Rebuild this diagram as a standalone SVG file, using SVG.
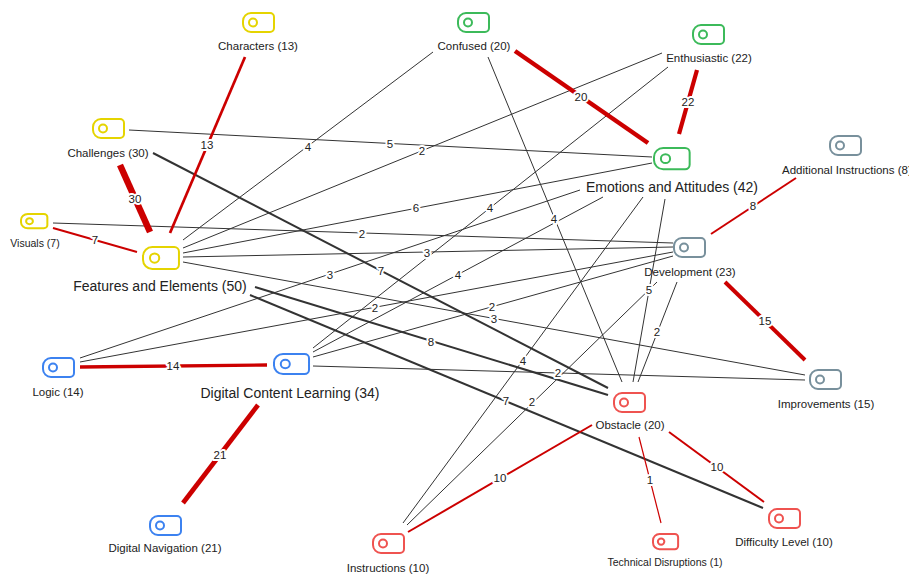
<svg xmlns="http://www.w3.org/2000/svg" xmlns:xlink="http://www.w3.org/1999/xlink" width="909" height="575" viewBox="0 0 909 575">
<style>
.e{stroke:#333;stroke-width:1;fill:none}
.eb{stroke:#333;stroke-width:2;fill:none}
.r{stroke:#cc0000;fill:none}
.el{font-family:"Liberation Sans",Arial,sans-serif;font-size:11.5px;fill:#222;text-anchor:middle;dominant-baseline:central;stroke:#fff;stroke-width:4;paint-order:stroke;stroke-linejoin:round}
.nl{font-family:"Liberation Sans",Arial,sans-serif;font-size:11.5px;fill:#222;text-anchor:middle}
.st{text-anchor:start}
.big{font-size:14px}
.sm{font-size:10.5px}
.tag{fill:#fff;stroke-width:2;vector-effect:non-scaling-stroke}
.y{stroke:#e5d400}.g{stroke:#3cba5a}.s{stroke:#78909c}.b{stroke:#3c82f0}.p{stroke:#ef5350}
</style>
<defs>
<g id="t">
<path d="M8,0 H27 A4,4 0 0 1 31,4 V15 A4,4 0 0 1 27,19 H8 A8,8 0 0 1 0,11 V8 A8,8 0 0 1 8,0 Z" style="vector-effect:non-scaling-stroke"/>
<circle cx="10" cy="9.5" r="4" style="vector-effect:non-scaling-stroke"/>
</g>
</defs>
<rect width="909" height="575" fill="#fff"/>
<g id="connectors">
<line class="e" x1="129" y1="130" x2="652" y2="157"/>
<line class="e" x1="183" y1="240" x2="433" y2="52"/>
<line class="e" x1="183" y1="248" x2="662" y2="53"/>
<line class="e" x1="183" y1="253" x2="652" y2="163"/>
<line class="e" x1="53" y1="223" x2="673" y2="243"/>
<line class="e" x1="183" y1="257" x2="673" y2="247"/>
<line class="e" x1="183" y1="262" x2="805" y2="375"/>
<line class="eb" x1="255" y1="287" x2="608" y2="395"/>
<line class="eb" x1="250" y1="295" x2="763" y2="508"/>
<line class="eb" x1="153" y1="153" x2="608" y2="388"/>
<line class="e" x1="80" y1="358" x2="580" y2="190"/>
<line class="e" x1="80" y1="362" x2="673" y2="252"/>
<line class="e" x1="313" y1="348" x2="668" y2="67"/>
<line class="e" x1="313" y1="352" x2="603" y2="197"/>
<line class="e" x1="313" y1="357" x2="673" y2="256"/>
<line class="e" x1="313" y1="366" x2="805" y2="380"/>
<line class="e" x1="488" y1="57" x2="622" y2="382"/>
<line class="e" x1="643" y1="197" x2="403" y2="523"/>
<line class="e" x1="665" y1="199" x2="633" y2="382"/>
<line class="e" x1="657" y1="282" x2="407" y2="525"/>
<line class="e" x1="677" y1="282" x2="638" y2="382"/>
<line class="r" stroke-width="2.7" x1="245" y1="57" x2="170" y2="233"/>
<line class="r" stroke-width="6.5" x1="120" y1="165" x2="150" y2="232"/>
<line class="r" stroke-width="2" x1="53" y1="228" x2="137" y2="252"/>
<line class="r" stroke-width="4.5" x1="515" y1="51" x2="648" y2="143"/>
<line class="r" stroke-width="4.2" x1="697" y1="70" x2="679" y2="134"/>
<line class="r" stroke-width="2" x1="796" y1="178" x2="711" y2="234"/>
<line class="r" stroke-width="4" x1="725" y1="282" x2="805" y2="360"/>
<line class="r" stroke-width="3.4" x1="80" y1="367" x2="267" y2="365"/>
<line class="r" stroke-width="4.7" x1="258" y1="405" x2="183" y2="503"/>
<line class="r" stroke-width="2" x1="592" y1="425" x2="408" y2="532"/>
<line class="r" stroke-width="1.2" x1="639" y1="437" x2="661" y2="523"/>
<line class="r" stroke-width="2" x1="669" y1="432" x2="764" y2="502"/>
</g>
<g id="connector-labels">
<text class="el" x="390" y="144">5</text>
<text class="el" x="308" y="147">4</text>
<text class="el" x="422" y="151">2</text>
<text class="el" x="416" y="208">6</text>
<text class="el" x="362" y="234">2</text>
<text class="el" x="427" y="253">3</text>
<text class="el" x="494" y="319">3</text>
<text class="el" x="431" y="342">8</text>
<text class="el" x="506" y="401">7</text>
<text class="el" x="381" y="271">7</text>
<text class="el" x="330" y="275">3</text>
<text class="el" x="375" y="308">2</text>
<text class="el" x="490" y="208">4</text>
<text class="el" x="458" y="275">4</text>
<text class="el" x="492" y="307">2</text>
<text class="el" x="558" y="373">2</text>
<text class="el" x="554" y="219">4</text>
<text class="el" x="523" y="361">4</text>
<text class="el" x="649" y="290">5</text>
<text class="el" x="532" y="402">2</text>
<text class="el" x="657" y="332">2</text>
<text class="el" x="207" y="145">13</text>
<text class="el" x="135" y="199">30</text>
<text class="el" x="95" y="240">7</text>
<text class="el" x="581" y="97">20</text>
<text class="el" x="688" y="102">22</text>
<text class="el" x="753" y="206">8</text>
<text class="el" x="765" y="321">15</text>
<text class="el" x="173" y="366">14</text>
<text class="el" x="220" y="455">21</text>
<text class="el" x="500" y="478">10</text>
<text class="el" x="650" y="480">1</text>
<text class="el" x="717" y="467">10</text>
</g>
<g id="node-characters"><use href="#t" class="tag y" transform="translate(243,13)"/><text class="nl" x="258" y="49.5">Characters (13)</text></g>
<g id="node-challenges"><use href="#t" class="tag y" transform="translate(93,119)"/><text class="nl" x="108" y="157">Challenges (30)</text></g>
<g id="node-visuals"><use href="#t" class="tag y" transform="translate(21,214) scale(0.85,0.75)"/><text class="nl sm" x="35" y="246.5">Visuals (7)</text></g>
<g id="node-features"><use href="#t" class="tag y" transform="translate(143,247) scale(1.16,1.16)"/><text class="nl big" x="160" y="291">Features and Elements (50)</text></g>
<g id="node-confused"><use href="#t" class="tag g" transform="translate(458,13)"/><text class="nl" x="474" y="50">Confused (20)</text></g>
<g id="node-enthusiastic"><use href="#t" class="tag g" transform="translate(693,25)"/><text class="nl" x="709" y="62">Enthusiastic (22)</text></g>
<g id="node-emotions"><use href="#t" class="tag g" transform="translate(654,148) scale(1.15,1.12)"/><text class="nl big" x="672" y="192">Emotions and Attitudes (42)</text></g>
<g id="node-additional"><use href="#t" class="tag s" transform="translate(830,136)"/><text class="nl st" x="782" y="174">Additional Instructions (8)</text></g>
<g id="node-development"><use href="#t" class="tag s" transform="translate(674,238)"/><text class="nl" x="690" y="276">Development (23)</text></g>
<g id="node-improvements"><use href="#t" class="tag s" transform="translate(810,370)"/><text class="nl" x="826" y="408">Improvements (15)</text></g>
<g id="node-logic"><use href="#t" class="tag b" transform="translate(43,358)"/><text class="nl" x="58" y="396">Logic (14)</text></g>
<g id="node-dcl"><use href="#t" class="tag b" transform="translate(274,354) scale(1.13,1.05)"/><text class="nl big" x="290" y="398">Digital Content Learning (34)</text></g>
<g id="node-navigation"><use href="#t" class="tag b" transform="translate(150,516)"/><text class="nl" x="165" y="552">Digital Navigation (21)</text></g>
<g id="node-instructions"><use href="#t" class="tag p" transform="translate(373,534)"/><text class="nl" x="388" y="572">Instructions (10)</text></g>
<g id="node-obstacle"><use href="#t" class="tag p" transform="translate(614,393)"/><text class="nl" x="630" y="429">Obstacle (20)</text></g>
<g id="node-technical"><use href="#t" class="tag p" transform="translate(653,534) scale(0.81,0.8)"/><text class="nl sm" x="665" y="566">Technical Disruptions (1)</text></g>
<g id="node-difficulty"><use href="#t" class="tag p" transform="translate(769,509)"/><text class="nl" x="784" y="546">Difficulty Level (10)</text></g>
</svg>
